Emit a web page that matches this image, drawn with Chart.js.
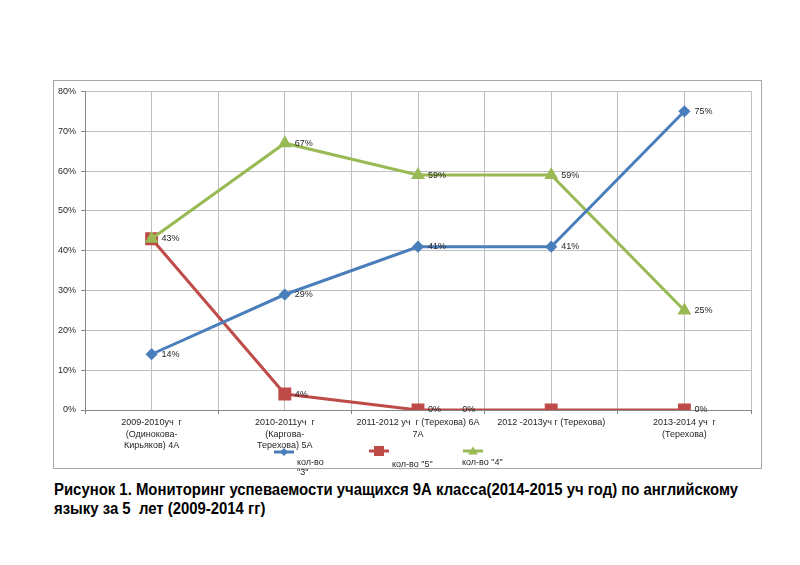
<!DOCTYPE html>
<html>
<head>
<meta charset="utf-8">
<script src="https://cdn.jsdelivr.net/npm/chart.js@4.4.1/dist/chart.umd.min.js"></script>
<style>
  body{margin:0;background:#fff;width:800px;height:565px;position:relative;overflow:hidden}
  #frame{position:absolute;left:53px;top:80px;width:707px;height:387px;border:1px solid #a6a6a6}
  #c{position:absolute;left:54px;top:81px}
  #cap{position:absolute;left:54px;top:480px;font:bold 16px 'Liberation Sans',sans-serif;line-height:19px;color:#000;white-space:nowrap;transform-origin:0 0}
</style>
</head>
<body>
<div id="frame"></div>
<canvas id="c" width="707" height="396"></canvas>
<div id="cap"><span id="l1">Рисунок 1. Мониторинг успеваемости учащихся 9А класса(2014-2015 уч год) по английскому</span><br>языку за 5&nbsp; лет (2009-2014 гг)</div>
<script>
// data
const categories = [
  ['2009-2010уч  г', '(Одинокова-', 'Кирьяков) 4А'],
  ['2010-2011уч  г', '(Каргова-', 'Терехова) 5А'],
  ['2011-2012 уч  г (Терехова) 6А', '7А'],
  ['2012 -2013уч г (Терехова)'],
  ['2013-2014 уч  г', '(Терехова)']
];
const seriesNames = ['кол-во "3"', 'кол-во "5"', 'кол-во "4"'];
const count3 = [14, 29, 41, 41, 75];
const count5 = [43, 4, 0, 0, 0];
const count4 = [43, 67, 59, 59, 25];
const yMax = 80, yStep = 10;

const FONT = "'Liberation Sans Narrow','Liberation Sans',sans-serif";
const TXT = '#262626';
const GRID = '#bfbfbf';
const AXIS = '#868686';

// squeeze the caption to the width it has in the original
const cap = document.getElementById('cap');
const k = 684 / document.getElementById('l1').getBoundingClientRect().width;
cap.style.transform = 'scaleX(' + k + ')';

function pts(arr){ return arr.map((v,i)=>({x:i, y:v})); }

// one label was moved by hand in the original (red, 4th point)
const labelNudge = {'1:3': -99};

const pointLabels = {
  id:'pointLabels',
  afterDatasetsDraw(chart){
    const ctx = chart.ctx;
    ctx.save();
    ctx.font = '9px ' + FONT;
    ctx.fillStyle = TXT;
    ctx.textBaseline = 'middle';
    const seen = {};
    chart.data.datasets.forEach((ds, di)=>{
      chart.getDatasetMeta(di).data.forEach((p, i)=>{
        const dx = 10 + (labelNudge[di+':'+i] || 0);
        const key = Math.round(p.x + dx) + ',' + Math.round(p.y);
        if(seen[key]) return; // same label on the same spot
        seen[key] = 1;
        ctx.fillText(ds.data[i].y + '%', p.x + dx, p.y);
      });
    });
    ctx.restore();
  }
};

function marker(ctx, style, x, y, color){
  ctx.fillStyle = color;
  ctx.beginPath();
  if(style==='rectRot'){ ctx.moveTo(x, y-4); ctx.lineTo(x+4, y); ctx.lineTo(x, y+4); ctx.lineTo(x-4, y); }
  else if(style==='rect'){ ctx.rect(x-5, y-5, 10, 10); }
  else { ctx.moveTo(x, y-4.5); ctx.lineTo(x+5, y+3.5); ctx.lineTo(x-5, y+3.5); }
  ctx.closePath(); ctx.fill();
}

// legend laid out like the original: marker on top, text under it
const legendSpots = [
  {cx:230, cy:371, tx:243, ty:382, wrap:true},
  {cx:325, cy:370, tx:338, ty:384, wrap:false},
  {cx:419, cy:370, tx:408, ty:382, wrap:false}
];
const oddLegend = {
  id:'oddLegend',
  afterDraw(chart){
    const ctx = chart.ctx;
    ctx.save();
    chart.data.datasets.forEach((ds, i)=>{
      const s = legendSpots[i];
      ctx.strokeStyle = ds.borderColor; ctx.lineWidth = 3;
      ctx.beginPath(); ctx.moveTo(s.cx-10, s.cy); ctx.lineTo(s.cx+10, s.cy); ctx.stroke();
      marker(ctx, ds.pointStyle, s.cx, s.cy, ds.borderColor);
      ctx.font = '9px ' + FONT; ctx.fillStyle = TXT; ctx.textBaseline = 'middle';
      if(s.wrap){
        const parts = ds.label.split(' ');
        ctx.fillText(parts[0], s.tx, s.ty);
        ctx.fillText(parts.slice(1).join(' '), s.tx, s.ty + 10);
      } else ctx.fillText(ds.label, s.tx, s.ty);
    });
    ctx.restore();
  }
};

const blue = '#4a7ebb', red = '#be4b48', green = '#98b954';

new Chart(document.getElementById('c'), {
  type:'line',
  data:{
    datasets:[
      {label:seriesNames[0], data:pts(count3), borderColor:blue, backgroundColor:blue, pointStyle:'rectRot', pointRadius:4, borderWidth:3, order:0},
      {label:seriesNames[1], data:pts(count5), borderColor:red, backgroundColor:red, pointStyle:'rect', pointRadius:7, borderWidth:3, order:2},
      {label:seriesNames[2], data:pts(count4), borderColor:green, backgroundColor:green, pointStyle:'triangle', pointRadius:5, borderWidth:3, order:1}
    ]
  },
  options:{
    responsive:false, animation:false,
    layout:{padding:{top:10, right:10, left:0, bottom:0}},
    plugins:{legend:{display:false}, tooltip:{enabled:false}},
    elements:{line:{tension:0}, point:{borderWidth:0}},
    scales:{
      x:{
        type:'linear', min:-0.5, max:categories.length-0.5,
        afterBuildTicks:s=>{ s.ticks=[]; for(let j=0;j<=categories.length*2;j++) s.ticks.push({value:-0.5+j*0.5}); },
        afterFit:s=>{ s.height = 67; },
        grid:{color:GRID, tickLength:4, tickColor:c=>Number.isInteger(c.tick && c.tick.value) ? 'rgba(0,0,0,0)' : AXIS},
        border:{color:AXIS},
        ticks:{autoSkip:false, maxRotation:0, padding:3, color:TXT, font:{family:FONT, size:9, lineHeight:1.28},
          callback:v=>Number.isInteger(v) ? categories[v] : ''}
      },
      y:{
        min:0, max:yMax,
        afterFit:s=>{ s.width = 31; },
        grid:{color:GRID, tickLength:4, tickColor:AXIS},
        border:{color:AXIS},
        ticks:{stepSize:yStep, padding:5, color:TXT, font:{family:FONT, size:9}, callback:v=>v+'%'}
      }
    }
  },
  plugins:[pointLabels, oddLegend]
});
</script>
</body>
</html>
